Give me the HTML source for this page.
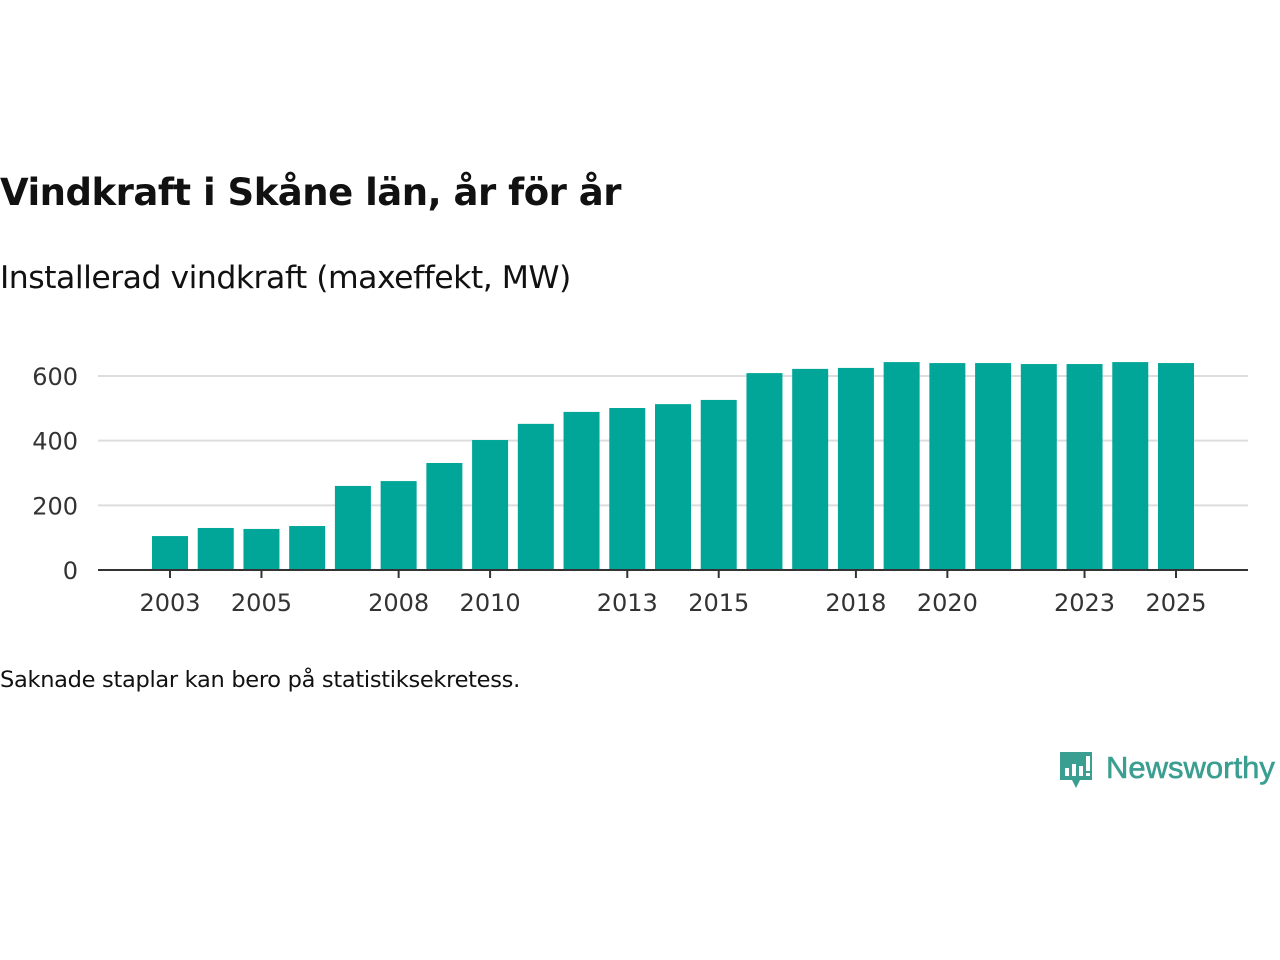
<!DOCTYPE html>
<html><head><meta charset="utf-8"><style>
body{margin:0;width:1280px;height:960px;background:#fff;font-family:"Liberation Sans","DejaVu Sans",sans-serif;position:relative;overflow:hidden}
#title{position:absolute;left:0;top:171px;font-size:37px;font-weight:bold;color:#111;font-family:"DejaVu Sans",sans-serif;letter-spacing:-0.5px}
#sub{position:absolute;left:0;top:260px;font-size:31.5px;color:#111;font-family:"DejaVu Sans",sans-serif;letter-spacing:-0.5px}
#note{position:absolute;left:0;top:667px;font-size:22.5px;color:#111;font-family:"DejaVu Sans",sans-serif;letter-spacing:-0.3px}
#logo{position:absolute;left:1058px;top:748px}
</style></head><body>
<div id="title">Vindkraft i Skåne län, år för år</div>
<div id="sub">Installerad vindkraft (maxeffekt, MW)</div>
<svg id="chart" width="1280" height="960" style="position:absolute;left:0;top:0"></svg>
<div id="note">Saknade staplar kan bero på statistiksekretess.</div>
<div id="logo">
<svg width="222" height="46">
<path d="M2 4h32v28h-12l-4 8l-4-8h-12z" fill="#3a9e91"/>
<rect x="7" y="20" width="4" height="8" fill="#fff"/><rect x="14" y="16" width="4" height="12" fill="#fff"/><rect x="21" y="18" width="4" height="10" fill="#fff"/><rect x="28" y="8" width="4" height="15" fill="#fff"/><rect x="28" y="25" width="4" height="3" fill="#fff"/>
<text x="48" y="30" font-size="31" fill="#3a9e91" font-family="Liberation Sans, sans-serif" stroke="#3a9e91" stroke-width="0.6">Newsworthy</text>
</svg></div>
<script>
const years=[2003,2004,2005,2006,2007,2008,2009,2010,2011,2012,2013,2014,2015,2016,2017,2018,2019,2020,2021,2022,2023,2024,2025];
const values=[105,130,127,136,260,275,331,402,452,489,501,513,526,609,622,625,643,640,640,637,637,643,640];
const yTicks=[0,200,400,600];
const xTicks=[2003,2005,2008,2010,2013,2015,2018,2020,2023,2025];
const svg=document.getElementById('chart');
const NS='http://www.w3.org/2000/svg';
const x=y=>170+(y-2003)*(1176-170)/22;
const yS=v=>570-v*(570-376)/600;
function mk(t,a){const e=document.createElementNS(NS,t);for(const k in a)e.setAttribute(k,a[k]);svg.appendChild(e);return e;}
yTicks.forEach(v=>{
 if(v>0){const g=mk('line',{x1:98,x2:1248,y1:yS(v),y2:yS(v),stroke:'#ddd','stroke-width':2});
 
 }
 const t=mk('text',{x:78,y:yS(v)+9,'text-anchor':'end','font-size':24,fill:'#333','font-family':'DejaVu Sans, sans-serif'});
 t.textContent=v;
 
 
});
years.forEach((yr,i)=>{
 const r=mk('rect',{x:x(yr)-18,y:yS(values[i]),width:36,height:yS(0)-yS(values[i]),fill:'#02a699'});
 
 
});
const ax=mk('line',{x1:98,x2:1248,y1:570,y2:570,stroke:'#333','stroke-width':2});


xTicks.forEach(yr=>{
 const tk=mk('line',{x1:x(yr),x2:x(yr),y1:570,y2:578,stroke:'#333','stroke-width':2});
 
 
 const t=mk('text',{x:x(yr),y:611,'text-anchor':'middle','font-size':24,fill:'#333','font-family':'DejaVu Sans, sans-serif'});
 t.textContent=yr;
 
 
});
</script>
</body></html>
